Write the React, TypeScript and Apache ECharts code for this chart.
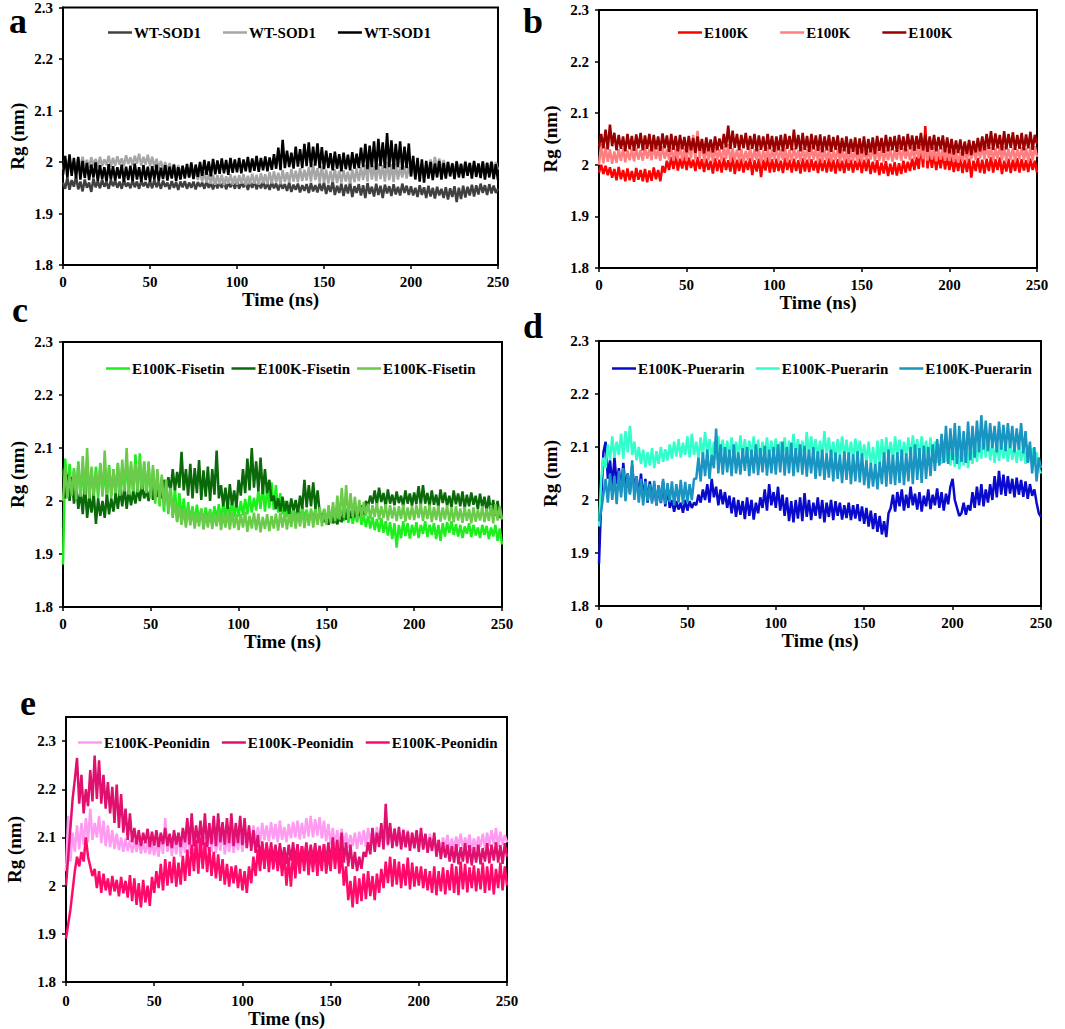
import React, { useEffect, useRef } from "react";
import * as echarts from "echarts";

const FONT = '"Liberation Serif", "Times New Roman", serif';
const TIME_STEP = 1.25; // ns between stored samples (0 .. 250 ns, 201 samples)
const PM_PER_NM = 1000; // values below are Rg in picometres

// ---------- panel a : WT-SOD1 ----------
const A_NAMES = ["WT-SOD1", "WT-SOD1", "WT-SOD1"];
const A_COLORS = ["#404040", "#a6a6a6", "#000000"];
const A_S1_PM = [
  1960,1948,1970,1946,1965,1952,1972,1947,1962,1943,1966,1950,1960,1942,1968,1951,1963,1949,1966,1952,
  1961,1948,1965,1953,1964,1950,1962,1948,1966,1952,1960,1949,1965,1951,1962,1948,1964,1953,1961,1950,
  1963,1949,1966,1951,1962,1948,1964,1952,1960,1947,1963,1950,1961,1946,1962,1951,1963,1948,1960,1950,
  1962,1947,1961,1952,1960,1948,1963,1950,1959,1947,1962,1949,1961,1950,1963,1947,1960,1951,1962,1948,
  1963,1948,1960,1951,1962,1946,1961,1950,1963,1947,1960,1949,1962,1948,1959,1946,1961,1949,1958,1945,
  1960,1948,1957,1944,1960,1942,1956,1946,1958,1941,1955,1944,1957,1940,1959,1943,1955,1941,1958,1944,
  1960,1938,1955,1942,1962,1936,1954,1940,1958,1934,1956,1939,1960,1932,1953,1940,1957,1935,1955,1930,
  1959,1938,1952,1933,1958,1936,1954,1930,1956,1939,1953,1934,1957,1937,1952,1935,1958,1940,1954,1936,
  1953,1935,1950,1932,1955,1936,1951,1930,1954,1933,1950,1929,1952,1935,1948,1930,1951,1927,1949,1932,
  1953,1922,1950,1928,1954,1931,1952,1935,1956,1933,1955,1937,1958,1940,1955,1936,1957,1939,1954,1940,
  1948,
];
const A_S2_PM = [
  1985,2005,1988,2008,1986,2002,1990,2007,1988,2010,1991,2004,1989,2009,1993,2006,1990,2010,1992,2005,
  1994,2012,1991,2008,1993,2011,1995,2007,1992,2013,1996,2009,1994,2012,1997,2016,1993,2010,1995,2014,
  1992,2010,1990,2006,1988,2002,1985,2000,1982,1998,1980,1996,1978,1994,1976,1992,1973,1990,1970,1987,
  1968,1985,1965,1982,1962,1980,1960,1977,1958,1975,1956,1974,1957,1975,1955,1972,1958,1976,1956,1973,
  1956,1974,1958,1976,1955,1973,1957,1977,1958,1975,1956,1978,1959,1976,1957,1980,1958,1982,1960,1979,
  1957,1984,1961,1980,1960,1986,1962,1983,1961,1988,1963,1985,1964,1990,1962,1997,1965,1988,1960,1992,
  1960,1985,1958,1982,1961,1986,1959,1983,1960,1984,1962,1981,1958,1985,1961,1987,1963,1990,1965,1995,
  1962,2006,1966,1993,1963,1997,1967,1994,1962,2000,1965,1996,1961,1998,1966,1990,1970,1993,1968,1991,
  1972,1994,1970,1991,1974,1996,1976,1993,1980,2005,1983,2010,1985,2007,1982,2004,1980,2000,1978,1998,
  1981,2002,1979,1997,1980,2002,1978,1998,1982,2000,1979,1997,1983,2001,1981,1999,1985,2002,1983,2000,
  1985,
];
const A_S3_PM = [
  1975,2012,1970,2015,1973,2008,1968,2010,1966,2002,1969,1998,1965,1995,1970,1999,1963,1994,1967,1990,
  1962,1996,1966,1992,1964,1990,1968,1995,1962,1991,1965,1993,1963,1997,1966,1990,1962,1994,1965,1991,
  1962,1992,1966,1995,1963,1989,1967,1994,1964,1991,1968,1995,1963,1990,1966,1993,1968,1996,1970,1999,
  1967,1995,1971,2000,1973,2004,1975,2001,1972,2006,1976,2003,1977,2007,1978,2004,1975,2008,1979,2005,
  1980,2008,1978,2005,1982,2010,1980,2007,1983,2012,1981,2008,1984,2011,1982,2009,1985,2015,1987,2028,
  1984,2043,1988,2022,1990,2018,1987,2030,1991,2025,1988,2035,1992,2038,1990,2030,1993,2036,1988,2029,
  1986,2022,1988,2017,1984,2020,1987,2015,1982,2018,1986,2014,1984,2019,1987,2016,1988,2028,1990,2035,
  1986,2032,1990,2040,1985,2045,1992,2038,1988,2056,1990,2042,1986,2035,1990,2040,1985,2030,1988,2036,
  1972,2012,1966,2008,1962,2005,1960,2002,1968,2000,1965,1997,1970,2002,1966,1998,1968,2000,1972,1997,
  1967,2001,1970,1996,1969,2000,1973,1998,1968,2002,1971,1997,1969,2001,1966,1998,1970,2000,1967,1996,
  1965,
];

// ---------- panel b : E100K ----------
const B_NAMES = ["E100K", "E100K", "E100K"];
const B_COLORS = ["#ff0000", "#ff7f80", "#990000"];
const B_S1_PM = [
  1985,2000,1982,1998,1980,1995,1975,1992,1970,1996,1972,1990,1968,1993,1970,1988,1967,1994,1971,1990,
  1968,1992,1966,1989,1969,1995,1972,1990,1968,1998,1985,2008,1990,2015,1992,2018,1989,2012,1993,2016,
  1990,2014,1994,2010,1988,2015,1992,2011,1986,2012,1990,2008,1983,2013,1988,2010,1985,2014,1990,2009,
  1987,2016,1982,2010,1988,2012,1985,2008,1990,2013,1980,2009,1987,2012,1976,2010,1989,2015,1985,2011,
  1986,2012,1988,2008,1984,2014,1990,2010,1985,2012,1988,2009,1983,2013,1987,2010,1986,2011,1989,2008,
  1984,2012,1988,2009,1985,2013,1987,2010,1983,2011,1988,2008,1984,2012,1989,2010,1985,2008,1990,2012,
  1984,2010,1988,2012,1982,2006,1985,2009,1980,2004,1983,2007,1978,2002,1981,2005,1979,2003,1982,2008,
  1985,2006,1988,2012,1990,2015,1992,2040,1995,2075,1993,2025,1994,2020,1990,2018,1993,2022,1991,2016,
  1990,2015,1986,2012,1988,2014,1984,2010,1986,2012,1975,2008,1988,2013,1985,2010,1983,2012,1988,2015,
  1985,2011,1990,2014,1982,2008,1987,2012,1984,2010,1988,2013,1985,2011,1989,2009,1986,2012,1990,2008,
  1985,
];
const B_S2_PM = [
  2000,2040,2003,2035,2006,2030,2002,2026,2004,2030,2008,2032,2005,2028,2009,2031,2007,2033,2010,2029,
  2008,2035,2012,2030,2009,2037,2011,2032,2008,2036,2012,2030,2010,2034,2008,2031,2011,2036,2009,2032,
  2008,2040,2012,2058,2010,2066,2012,2045,2006,2035,2009,2031,2006,2034,2010,2030,2007,2036,2011,2040,
  2006,2032,2010,2029,2008,2030,2005,2027,2009,2033,2006,2030,2009,2031,2005,2028,2008,2034,2006,2030,
  2010,2035,2007,2030,2009,2033,2005,2029,2008,2032,2011,2028,2006,2034,2009,2030,2008,2036,2010,2031,
  2007,2033,2004,2029,2008,2031,2006,2028,2009,2032,2005,2030,2007,2029,2004,2027,2008,2031,2005,2028,
  2006,2030,2009,2027,2010,2034,2007,2031,2008,2033,2005,2029,2009,2031,2006,2028,2010,2035,2008,2032,
  2012,2030,2009,2034,2010,2036,2013,2038,2011,2040,2008,2036,2010,2034,2007,2031,2010,2033,2008,2029,
  2008,2028,2006,2026,2004,2024,2007,2027,2008,2030,2011,2033,2009,2035,2012,2036,2010,2038,2013,2034,
  2008,2032,2011,2036,2009,2035,2007,2031,2010,2033,2008,2030,2011,2034,2009,2032,2006,2035,2008,2036,
  2015,
];
const B_S3_PM = [
  2035,2060,2032,2068,2030,2078,2036,2062,2028,2058,2031,2055,2026,2060,2030,2056,2027,2059,2032,2062,
  2028,2057,2031,2060,2026,2058,2030,2055,2027,2061,2032,2057,2025,2060,2029,2056,2026,2058,2030,2054,
  2024,2056,2028,2052,2023,2055,2027,2050,2022,2053,2026,2049,2024,2055,2028,2051,2030,2060,2034,2076,
  2031,2066,2033,2060,2028,2058,2032,2062,2029,2056,2031,2060,2026,2057,2029,2055,2027,2060,2030,2056,
  2025,2055,2028,2058,2026,2060,2031,2056,2028,2068,2030,2058,2026,2062,2029,2056,2025,2060,2030,2057,
  2027,2059,2024,2055,2028,2058,2025,2054,2029,2057,2022,2052,2026,2055,2021,2050,2025,2053,2020,2051,
  2022,2055,2019,2050,2024,2053,2021,2056,2027,2052,2023,2058,2026,2054,2028,2056,2025,2058,2029,2055,
  2026,2060,2030,2057,2027,2056,2031,2062,2028,2058,2025,2055,2029,2058,2026,2054,2030,2057,2024,2053,
  2022,2050,2020,2047,2023,2049,2018,2045,2021,2048,2019,2046,2024,2052,2026,2055,2028,2060,2031,2065,
  2029,2061,2032,2058,2028,2065,2030,2060,2033,2063,2029,2058,2031,2062,2028,2059,2032,2064,2029,2058,
  2040,
];

// ---------- panel c : E100K-Fisetin ----------
const C_NAMES = ["E100K-Fisetin", "E100K-Fisetin", "E100K-Fisetin"];
const C_COLORS = ["#1cef1c", "#0a6a0a", "#6acb4a"];
const C_S1_PM = [
  1880,2080,2020,2070,2010,2062,2015,2075,2005,2060,2012,2068,2003,2058,2010,2065,2005,2070,2012,2062,
  2002,2068,2010,2060,2006,2072,2012,2065,2008,2078,2015,2066,2010,2088,2016,2090,2012,2075,2008,2070,
  2006,2060,1995,2052,1990,2045,1980,2040,1975,2032,1968,2025,1962,2015,1965,2005,1960,1998,1962,1990,
  1958,1993,1961,1986,1960,1988,1963,1985,1962,1990,1965,1994,1964,1996,1968,2000,1966,2002,1969,1998,
  1970,2000,1973,2004,1975,2010,1978,2006,1982,2020,1985,2030,1980,2025,1986,2035,1983,2030,1978,2015,
  1975,2000,1970,1992,1966,1988,1969,1985,1964,1990,1967,1984,1962,1982,1966,1986,1963,1980,1966,1985,
  1960,1983,1963,1986,1958,1990,1961,1984,1962,1986,1959,1981,1957,1978,1960,1983,1955,1975,1951,1972,
  1948,1970,1945,1966,1942,1968,1940,1962,1935,1960,1928,1958,1912,1955,1930,1962,1934,1958,1929,1955,
  1935,1960,1930,1955,1938,1962,1932,1955,1936,1958,1928,1955,1925,1958,1933,1960,1940,1962,1936,1956,
  1933,1955,1930,1952,1938,1958,1932,1955,1935,1950,1930,1955,1936,1953,1928,1950,1933,1955,1925,1948,
  1918,
];
const C_S2_PM = [
  2060,2005,2050,2000,2045,1995,2030,1985,2020,1975,2030,1968,2010,1978,2015,1957,2005,1972,2000,1968,
  2012,1975,2005,1980,2015,1985,2022,1990,2027,1985,2020,1992,2018,1995,2025,2000,2030,2005,2022,2000,
  2030,2002,2035,2008,2028,2005,2040,2015,2045,2018,2060,2020,2055,2025,2093,2020,2060,2010,2070,2005,
  2062,2015,2077,2002,2058,2008,2065,2000,2060,2012,2095,2005,2030,1990,2025,1985,2032,1992,2020,1988,
  2040,2010,2060,2015,2080,2020,2100,2025,2075,2018,2082,2013,2060,2015,2040,2000,2010,1985,2005,1980,
  2008,1978,2000,1976,2005,1980,2002,1975,2010,1985,2040,1988,2030,1990,2035,1985,2020,1975,1975,1960,
  1972,1955,1975,1958,1970,1956,1974,1960,1980,1965,1985,1968,1990,1970,1985,1972,1992,1975,2000,1990,
  2010,1995,2020,1993,2025,1998,2015,1990,2022,1995,2012,1992,2018,1996,2010,1990,2020,1995,2014,1991,
  2016,1994,2028,1992,2030,1995,2015,1990,2020,1993,2012,1988,2022,1996,2016,1991,2010,1988,2020,1994,
  2014,1990,2018,1986,2012,1990,2016,1993,2010,1985,2014,1988,2008,1980,2010,1975,2002,1972,2000,1970,
  1968,
];
const C_S3_PM = [
  2000,2065,2005,2050,2010,2060,2003,2070,2008,2085,2012,2100,2005,2065,2010,2055,2015,2072,2008,2095,
  2012,2065,2006,2060,2015,2070,2010,2078,2018,2100,2012,2075,2020,2070,2016,2078,2022,2072,2015,2075,
  2005,2068,2000,2060,1995,2050,1990,2040,1982,2025,1970,2000,1960,1990,1955,1985,1950,1988,1954,1982,
  1948,1978,1952,1985,1946,1975,1950,1980,1947,1976,1952,1982,1945,1975,1950,1978,1946,1980,1949,1976,
  1945,1975,1950,1980,1942,1972,1948,1978,1945,1976,1941,1970,1947,1975,1943,1972,1948,1976,1944,1978,
  1950,1980,1946,1975,1951,1982,1948,1978,1952,1985,1949,1980,1953,1986,1950,1982,1955,1988,1952,1985,
  1955,1992,1958,1998,1962,2010,1965,2025,1968,2030,1965,2015,1970,2008,1966,2002,1968,1998,1972,1995,
  1966,1992,1970,1996,1965,1990,1968,1994,1963,1992,1967,1989,1962,1990,1966,1993,1961,1988,1965,1991,
  1964,1992,1968,1995,1962,1990,1966,1993,1960,1989,1964,1991,1961,1988,1965,1992,1962,1987,1960,1990,
  1963,1986,1959,1989,1962,1985,1958,1988,1961,1984,1963,1990,1960,1986,1962,1992,1958,1994,1963,1990,
  1965,
];

// ---------- panel d : E100K-Puerarin ----------
const D_NAMES = ["E100K-Puerarin", "E100K-Puerarin", "E100K-Puerarin"];
const D_COLORS = ["#0a0acc", "#33ffcc", "#1a95c2"];
const D_S1_PM = [
  1880,2000,2090,2110,2040,2075,2025,2080,2030,2060,2015,2070,2020,2050,2013,2065,2018,2045,2005,2050,
  2000,2040,1995,2035,1998,2030,1990,2028,1994,2035,1988,2025,1985,2000,1978,1998,1982,1995,1976,2000,
  1980,1998,1985,1995,1990,2010,1995,2020,2000,2030,1995,2040,2005,2025,1990,2020,1992,2015,1985,2008,
  1975,2005,1968,2000,1972,1998,1964,2005,1970,2000,1963,1995,1975,2005,1985,2020,1980,2030,1990,2015,
  1985,2025,1980,2010,1970,2005,1960,1998,1958,2000,1965,2005,1960,2013,1968,2000,1962,1995,1970,2005,
  1965,2000,1958,1995,1968,2000,1962,1998,1970,1995,1963,1990,1966,1995,1962,1990,1965,1992,1960,1988,
  1955,1985,1950,1980,1945,1975,1940,1970,1935,1960,1930,1975,1985,2010,1978,2015,1988,2020,1980,2010,
  1985,2025,1990,2012,1982,2015,1978,2008,1988,2020,1983,2010,1990,2022,1985,2015,1980,2012,1992,2025,
  2040,2000,1985,1970,1975,1995,1972,1990,1980,2015,1985,2025,1990,2030,1988,2020,1995,2030,2000,2045,
  2005,2055,2010,2048,2008,2045,2012,2040,2005,2042,2010,2038,2006,2035,2002,2030,2008,2020,1995,1975,
  1968,
];
const D_S2_PM = [
  1950,2040,2080,2060,2105,2075,2120,2080,2110,2085,2125,2078,2130,2090,2140,2085,2110,2075,2100,2068,
  2095,2062,2090,2065,2098,2060,2092,2068,2100,2072,2096,2075,2105,2078,2110,2082,2115,2080,2108,2085,
  2120,2080,2125,2085,2110,2078,2118,2082,2128,2085,2115,2080,2110,2076,2120,2083,2114,2078,2112,2080,
  2118,2076,2110,2082,2122,2080,2115,2078,2112,2084,2120,2080,2114,2076,2110,2082,2118,2078,2112,2084,
  2116,2078,2110,2080,2118,2076,2112,2082,2125,2084,2115,2080,2112,2078,2128,2085,2120,2082,2115,2078,
  2112,2080,2130,2084,2118,2078,2110,2075,2115,2082,2120,2080,2114,2078,2110,2076,2116,2082,2112,2078,
  2105,2070,2110,2065,2100,2060,2112,2068,2115,2072,2118,2078,2110,2075,2120,2080,2114,2076,2110,2082,
  2118,2078,2122,2084,2115,2080,2120,2082,2112,2078,2118,2076,2110,2070,2105,2068,2112,2072,2108,2065,
  2100,2062,2105,2058,2098,2065,2110,2060,2102,2068,2112,2072,2108,2078,2130,2080,2118,2075,2110,2070,
  2108,2074,2112,2078,2105,2072,2110,2076,2102,2070,2106,2074,2100,2068,2104,2072,2098,2066,2090,2060,
  2050,
];
const D_S3_PM = [
  1960,1980,2010,2040,1995,2050,2000,2045,1992,2055,2005,2060,1998,2050,2010,2075,2000,2045,1995,2040,
  1990,2035,1998,2030,1993,2036,1990,2028,1995,2040,1992,2032,1996,2035,1990,2030,1995,2038,1992,2034,
  1995,2030,2000,2040,2040,2080,2035,2090,2045,2095,2040,2085,2060,2135,2050,2105,2048,2100,2052,2095,
  2045,2105,2050,2090,2048,2098,2055,2100,2045,2095,2050,2105,2047,2098,2052,2102,2046,2095,2050,2100,
  2048,2105,2052,2110,2046,2100,2050,2108,2045,2098,2052,2105,2048,2102,2044,2095,2050,2100,2040,2092,
  2045,2095,2038,2088,2042,2095,2035,2090,2040,2085,2032,2092,2038,2090,2030,2086,2035,2092,2033,2088,
  2028,2075,2022,2070,2025,2068,2020,2072,2030,2090,2025,2095,2030,2085,2028,2090,2032,2095,2028,2088,
  2035,2100,2030,2105,2038,2098,2032,2102,2040,2100,2045,2105,2055,2115,2065,2125,2070,2140,2068,2135,
  2075,2145,2068,2140,2072,2130,2070,2148,2075,2140,2080,2150,2090,2160,2095,2150,2092,2145,2098,2140,
  2090,2148,2095,2142,2092,2145,2098,2140,2090,2135,2095,2145,2088,2130,2070,2110,2050,2100,2035,2080,
  2060,
];

// ---------- panel e : E100K-Peonidin ----------
const E_NAMES = ["E100K-Peonidin", "E100K-Peonidin", "E100K-Peonidin"];
const E_COLORS = ["#ff9cf2", "#e0106e", "#ff0a6a"];
const E_S1_PM = [
  2030,2145,2050,2110,2070,2125,2075,2130,2085,2140,2090,2160,2095,2130,2100,2145,2088,2135,2082,2125,
  2080,2115,2076,2108,2074,2100,2070,2098,2072,2095,2068,2093,2070,2094,2066,2090,2068,2092,2065,2090,
  2063,2092,2060,2100,2066,2140,2070,2105,2062,2098,2065,2110,2060,2100,2068,2115,2066,2120,2062,2108,
  2072,2110,2066,2102,2075,2112,2070,2118,2068,2108,2072,2120,2065,2105,2070,2112,2068,2108,2074,2110,
  2070,2110,2078,2118,2082,2125,2086,2122,2090,2130,2094,2125,2092,2132,2096,2128,2090,2135,2095,2122,
  2090,2128,2098,2132,2100,2135,2096,2130,2098,2140,2102,2145,2100,2138,2104,2142,2098,2135,2092,2128,
  2085,2120,2082,2115,2080,2118,2085,2110,2078,2105,2082,2110,2076,2112,2085,2115,2080,2120,2088,2118,
  2082,2122,2090,2125,2086,2118,2082,2115,2085,2120,2080,2112,2084,2118,2078,2115,2082,2110,2076,2108,
  2080,2110,2076,2105,2072,2108,2078,2100,2070,2095,2074,2100,2078,2105,2072,2098,2076,2102,2080,2108,
  2075,2100,2078,2106,2072,2098,2076,2102,2080,2108,2078,2110,2082,2115,2086,2120,2080,2112,2085,2105,
  2090,
];
const E_S2_PM = [
  2000,2060,2120,2180,2220,2265,2170,2230,2150,2200,2165,2240,2175,2270,2180,2260,2170,2230,2160,2215,
  2150,2205,2130,2210,2120,2190,2110,2160,2095,2150,2090,2120,2085,2115,2082,2110,2088,2118,2080,2112,
  2083,2115,2080,2110,2086,2120,2082,2108,2078,2115,2085,2110,2080,2120,2090,2140,2085,2150,2082,2125,
  2088,2135,2084,2150,2080,2130,2086,2145,2082,2150,2090,2132,2085,2140,2088,2150,2082,2130,2088,2145,
  2084,2140,2078,2125,2072,2115,2068,2105,2055,2092,2050,2086,2048,2090,2052,2085,2046,2088,2050,2080,
  2045,2085,2052,2090,2048,2086,2044,2082,2050,2090,2046,2085,2052,2088,2048,2083,2050,2086,2047,2090,
  2045,2100,2050,2095,2042,2110,2048,2090,2040,2085,2035,2070,2030,2060,2035,2070,2060,2090,2065,2120,
  2070,2110,2080,2130,2075,2170,2085,2130,2078,2118,2082,2122,2075,2115,2080,2112,2072,2110,2078,2115,
  2070,2120,2075,2108,2068,2100,2072,2110,2060,2095,2055,2090,2058,2085,2050,2082,2048,2086,2044,2080,
  2050,2088,2046,2084,2042,2080,2048,2085,2044,2078,2050,2088,2046,2085,2052,2090,2048,2084,2045,2088,
  2060,
];
const E_S3_PM = [
  1890,1920,1950,1990,2030,2060,2040,2070,2050,2100,2060,2040,2020,2035,1995,2030,1985,2025,1990,2015,
  1980,2020,1988,2012,1978,2018,1984,2010,1975,2022,1968,2015,1960,2005,1955,2012,1965,2000,1958,2018,
  1985,2030,1995,2045,1990,2055,2000,2050,2005,2060,1998,2048,2002,2062,2010,2075,2020,2085,2030,2095,
  2025,2100,2035,2090,2028,2080,2020,2070,2015,2065,2010,2055,2002,2045,1998,2040,2005,2042,1995,2035,
  1990,2030,1985,2040,2005,2060,2020,2075,2030,2085,2035,2090,2028,2080,2034,2076,2030,2070,2020,2065,
  2000,2060,1998,2070,2015,2078,2025,2082,2030,2085,2022,2075,2028,2080,2020,2072,2030,2085,2025,2070,
  2030,2090,2035,2085,2025,2070,2000,2040,1970,2010,1955,2020,1962,2015,1968,2025,1972,2030,1978,2020,
  1970,2025,1985,2035,1995,2050,2005,2060,1998,2055,2002,2050,1995,2045,2000,2058,1992,2048,1998,2040,
  2000,2040,1995,2035,1990,2030,1985,2040,1980,2030,1988,2038,1982,2032,1990,2045,1985,2040,1980,2050,
  1992,2045,1986,2038,1995,2042,1988,2036,1992,2048,1985,2040,1990,2045,1982,2035,1995,2048,1990,2040,
  2000,
];

const X_MIN = 0;
const X_MAX = 250;
const X_STEP = 50;
const Y_MIN = 1.8;
const Y_STEP = 0.1;

type Panel = {
  key: string;
  names: string[];
  colors: string[];
  data: number[][];
  yMax: number;
  grid: { left: number; top: number; width: number; height: number };
  legend: { left: number; top: number; gap: number };
  letter: { x: number; y: number };
  yNameGap: number;
  xNameGap: number;
  xLabelMargin: number;
};

const PANELS: Panel[] = [
  {
    key: "a", names: A_NAMES, colors: A_COLORS, data: [A_S1_PM, A_S2_PM, A_S3_PM], yMax: 2.3,
    grid: { left: 63, top: 6, width: 435, height: 259 },
    legend: { left: 108, top: 25, gap: 22 }, letter: { x: 9, y: 21 },
    yNameGap: 36, xNameGap: 22, xLabelMargin: 9,
  },
  {
    key: "b", names: B_NAMES, colors: B_COLORS, data: [B_S1_PM, B_S2_PM, B_S3_PM], yMax: 2.3,
    grid: { left: 599, top: 10, width: 438, height: 258 },
    legend: { left: 678, top: 25, gap: 32 }, letter: { x: 523, y: 21 },
    yNameGap: 39, xNameGap: 21, xLabelMargin: 9,
  },
  {
    key: "c", names: C_NAMES, colors: C_COLORS, data: [C_S1_PM, C_S2_PM, C_S3_PM], yMax: 2.3,
    grid: { left: 63, top: 342, width: 439, height: 265 },
    legend: { left: 106, top: 361, gap: 7 }, letter: { x: 12, y: 310 },
    yNameGap: 36, xNameGap: 22, xLabelMargin: 9,
  },
  {
    key: "d", names: D_NAMES, colors: D_COLORS, data: [D_S1_PM, D_S2_PM, D_S3_PM], yMax: 2.3,
    grid: { left: 599, top: 341, width: 442, height: 265 },
    legend: { left: 612, top: 361, gap: 11 }, letter: { x: 523, y: 326 },
    yNameGap: 39, xNameGap: 22, xLabelMargin: 9,
  },
  {
    key: "e", names: E_NAMES, colors: E_COLORS, data: [E_S1_PM, E_S2_PM, E_S3_PM], yMax: 2.35,
    grid: { left: 66, top: 717, width: 441, height: 265 },
    legend: { left: 78, top: 735, gap: 12 }, letter: { x: 20, y: 703 },
    yNameGap: 42, xNameGap: 25, xLabelMargin: 11,
  },
];

const seriesName = (p: Panel, j: number) => `${p.names[j]}#${p.key}${j}`;

function buildOption(): any {
  const boldText = { fontFamily: FONT, fontWeight: "bold", color: "#000" };
  return {
    animation: false,
    backgroundColor: "#ffffff",
    grid: PANELS.map((p) => ({
      ...p.grid,
      show: true,
      borderColor: "#000",
      borderWidth: 2,
      backgroundColor: "transparent",
      containLabel: false,
    })),
    xAxis: PANELS.map((p, i) => ({
      type: "value",
      gridIndex: i,
      min: X_MIN,
      max: X_MAX,
      interval: X_STEP,
      name: "Time (ns)",
      nameLocation: "middle",
      nameGap: p.xNameGap,
      nameTextStyle: { ...boldText, fontSize: 19 },
      axisLine: { show: true, onZero: false, lineStyle: { color: "#000", width: 2 } },
      axisTick: { show: true, inside: false, length: 4, lineStyle: { color: "#000", width: 1.5 } },
      axisLabel: { ...boldText, fontSize: 15, margin: p.xLabelMargin },
      splitLine: { show: false },
    })),
    yAxis: PANELS.map((p, i) => ({
      type: "value",
      gridIndex: i,
      min: Y_MIN,
      max: p.yMax,
      interval: Y_STEP,
      name: "Rg (nm)",
      nameLocation: "middle",
      nameGap: p.yNameGap,
      nameRotate: 90,
      nameTextStyle: { ...boldText, fontSize: 19 },
      axisLine: { show: true, onZero: false, lineStyle: { color: "#000", width: 2 } },
      axisTick: { show: true, inside: false, length: 4, lineStyle: { color: "#000", width: 1.5 } },
      axisLabel: {
        ...boldText,
        fontSize: 15,
        margin: 10,
        showMaxLabel: p.yMax === 2.3,
        formatter: (v: number) => {
          const r = Math.round(v * 100) / 100;
          if (Math.abs(r * 10 - Math.round(r * 10)) > 1e-6) return "";
          return String(Math.round(r * 10) / 10);
        },
      },
      splitLine: { show: false },
    })),
    legend: PANELS.map((p) => ({
      data: p.names.map((_, j) => seriesName(p, j)),
      left: p.legend.left,
      top: p.legend.top,
      itemGap: p.legend.gap,
      padding: 0,
      icon: "rect",
      itemWidth: 24,
      itemHeight: 2.5,
      selectedMode: false,
      formatter: (name: string) => name.split("#")[0],
      textStyle: { ...boldText, fontSize: 15, padding: [0, 0, 0, -3] },
    })),
    graphic: PANELS.map((p) => ({
      type: "text",
      x: p.letter.x,
      y: p.letter.y,
      style: {
        text: p.key,
        font: `bold 36px ${FONT}`,
        fill: "#000",
        textAlign: "left",
        textVerticalAlign: "middle",
      },
    })),
    series: PANELS.flatMap((p, i) =>
      p.data.map((vals, j) => ({
        type: "line",
        name: seriesName(p, j),
        xAxisIndex: i,
        yAxisIndex: i,
        data: vals.map((v, k) => [k * TIME_STEP, v / PM_PER_NM]),
        symbol: "none",
        showSymbol: false,
        color: p.colors[j],
        itemStyle: { color: p.colors[j] },
        lineStyle: { width: 2.5, color: p.colors[j], join: "bevel", cap: "butt" },
        emphasis: { disabled: true },
        silent: true,
      }))
    ),
  };
}

export default function App() {
  const ref = useRef<HTMLDivElement>(null);
  useEffect(() => {
    if (!ref.current) return;
    const chart = echarts.init(ref.current, null, { renderer: "svg" });
    chart.setOption(buildOption());
    return () => chart.dispose();
  }, []);
  return (
    <div
      ref={ref}
      style={{ position: "absolute", left: 0, top: 0, width: 1065, height: 1029, background: "#fff" }}
    />
  );
}
